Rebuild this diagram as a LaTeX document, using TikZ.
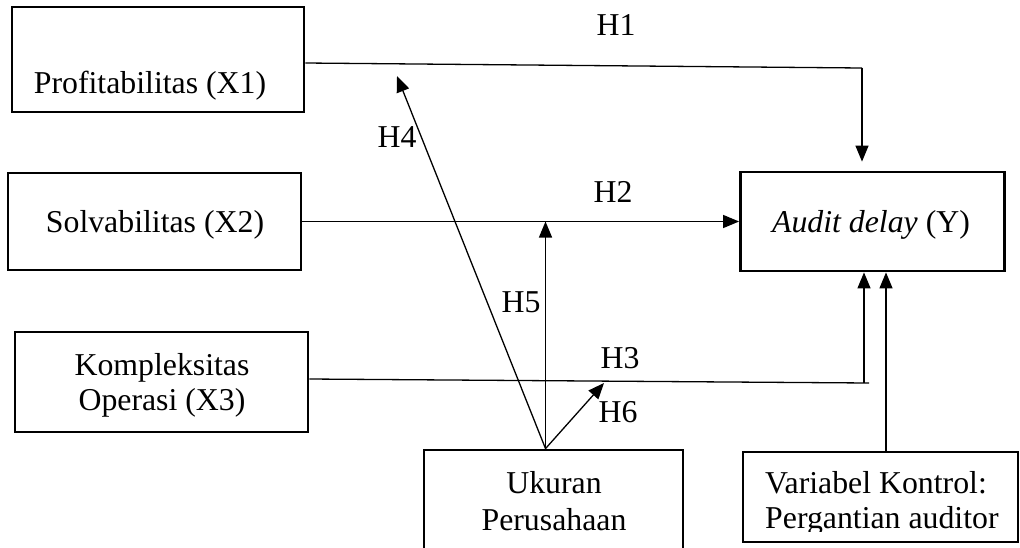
\documentclass[tikz,border=0pt]{standalone}
\usepackage{fontspec}
\setmainfont{Liberation Serif}
\usetikzlibrary{arrows.meta,calc}
\begin{document}
\begin{tikzpicture}[x=1pt,y=-1pt,
  box/.style={draw, line width=2.8pt, inner sep=0pt},
  txt/.style={inner sep=0pt, font=\fontsize{31.8}{38}\selectfont},
  conn/.style={line width=1.3pt},
  arr/.style={conn, -{Triangle[width=13pt,length=16pt]}}]
\useasboundingbox (0,0) rectangle (1020,547);
\clip (0,0) rectangle (1020,547);
% boxes
\node[box, minimum width=292pt, minimum height=105pt] (x1) at (158,59.5) {};
\node[box, minimum width=293pt, minimum height=97pt] (x2) at (154.5,221.5) {};
\node[box, minimum width=293pt, minimum height=100pt] (x3) at (161.5,382) {};
\node[box, minimum width=259pt, minimum height=120pt] (uk) at (553.5,510) {};
\node[box, minimum width=264pt, minimum height=99pt] (ya) at (872.5,221.5) {};
\node[box, minimum width=275pt, minimum height=90pt] (vk) at (880.5,497) {};
% box texts
\node[txt, anchor=base] (t1) at (150,93) {Profitabilitas (X1)};
\node[txt, anchor=base] (t2) at (155,232) {Solvabilitas (X2)};
\node[txt, anchor=base] (t3a) at (162,375) {Kompleksitas};
\node[txt, anchor=base] (t3b) at (162,410) {Operasi (X3)};
\node[txt, anchor=base] (ty) at (871,232) {\textit{Audit delay} (Y)};
\node[txt, anchor=base] (tu1) at (554,493) {Ukuran};
\node[txt, anchor=base] (tu2) at (554,530) {Perusahaan};
\node[txt, anchor=base west] (tv1) at (765,493) {Variabel Kontrol:};
\begin{scope}
\clip (745,455) rectangle (1015,531);
\node[txt, anchor=base west] (tv2) at (765,528) {Pergantian auditor};
\end{scope}
% hypothesis labels
\node[txt, anchor=base] (h1) at (616,35) {H1};
\node[txt, anchor=base] (h2) at (613,202) {H2};
\node[txt, anchor=base] (h3) at (620,368) {H3};
\node[txt, anchor=base] (h4) at (397,147) {H4};
\node[txt, anchor=base] (h5) at (521,312) {H5};
\node[txt, anchor=base] (h6) at (618,422) {H6};
% connectors
\coordinate (c1) at (862,68);
\draw[conn] ([yshift=-3.5pt]x1.east) -- (c1);
\draw[arr] (c1) -- ($(c1 |- ya.north)+(0,-9)$);
\draw[arr] (x2.east) -- (ya.west);
\coordinate (f) at ($(uk.north)+(-8,0)$);
\draw[arr] (f) -- (f |- x2.east);
\coordinate (h4t) at (397,76);
\draw[arr] (f) -- (h4t);
\coordinate (h6t) at (604,383);
\draw[arr] (f) -- (h6t);
\coordinate (c3) at (869,383);
\draw[conn] ([yshift=3pt]x3.east) -- (c3);
\coordinate (c3v) at (864,383);
\draw[arr] (c3v) -- (c3v |- ya.south);
\coordinate (vt) at ($(vk.north)+(5.5,0)$);
\draw[arr] (vt) -- (vt |- ya.south);
\end{tikzpicture}
\end{document}
